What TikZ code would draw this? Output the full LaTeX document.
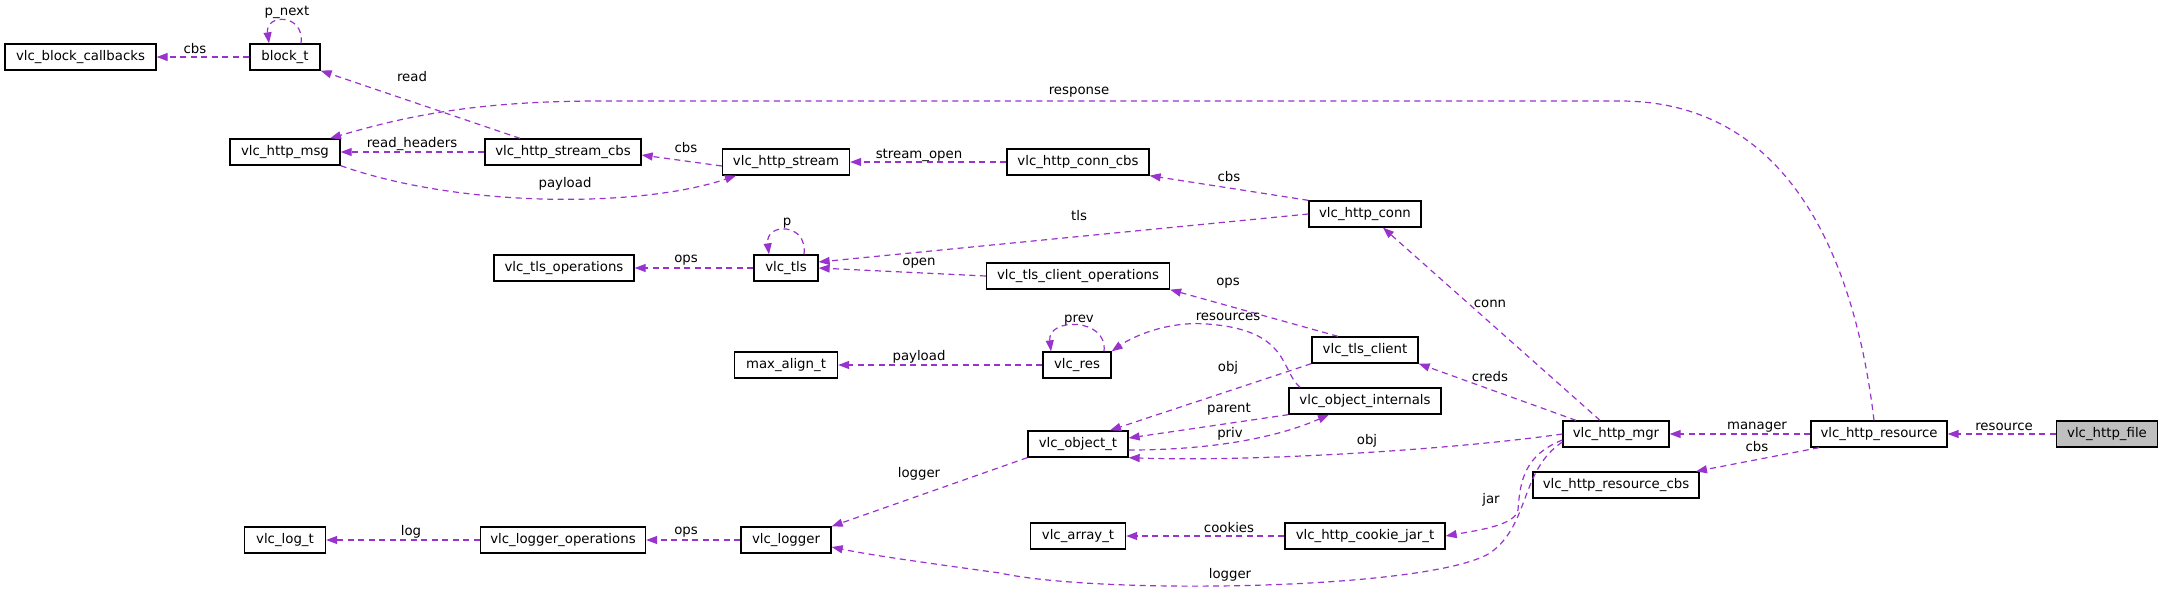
\documentclass[tikz,border=0pt]{standalone}
\usepackage{fontspec}
\setmainfont{DejaVu Sans}
\usetikzlibrary{arrows.meta}

\definecolor{edgecol}{HTML}{9A32CD}
\definecolor{filecol}{HTML}{BFBFBF}

\begin{document}
\begin{tikzpicture}[x=1pt,y=-1pt,
  cls/.style={draw,line width=1.3pt,inner sep=0pt,minimum height=26pt,font=\fontsize{13.3}{15}\selectfont},
  ed/.style={edgecol,line width=1.2pt,dash pattern=on 6pt off 4.5pt,-{Triangle[length=11pt,width=8pt]}},
  lbl/.style={inner sep=0pt,font=\fontsize{13.3}{15}\selectfont}]
\useasboundingbox (0,0) rectangle (2164,590);
% classes
\node[cls,minimum width=151] (cbcks) at (80.5,57) {vlc\_block\_callbacks};
\node[cls,minimum width=70] (blk) at (285,57) {block\_t};
\node[cls,minimum width=110] (msg) at (285,152) {vlc\_http\_msg};
\node[cls,minimum width=156] (scbs) at (563,152) {vlc\_http\_stream\_cbs};
\node[cls,minimum width=140] (tlsops) at (564,268) {vlc\_tls\_operations};
\node[cls,minimum width=127] (strm) at (786,162) {vlc\_http\_stream};
\node[cls,minimum width=142] (ccbs) at (1078,162) {vlc\_http\_conn\_cbs};
\node[cls,minimum width=112] (conn) at (1365,214) {vlc\_http\_conn};
\node[cls,minimum width=64] (tls) at (786,268) {vlc\_tls};
\node[cls,minimum width=183] (clops) at (1078,276) {vlc\_tls\_client\_operations};
\node[cls,minimum width=103] (maxal) at (786,365) {max\_align\_t};
\node[cls,minimum width=68] (res) at (1077,365) {vlc\_res};
\node[cls,minimum width=106] (tlscl) at (1365,350) {vlc\_tls\_client};
\node[cls,minimum width=152] (objint) at (1365,401) {vlc\_object\_internals};
\node[cls,minimum width=100] (obj) at (1078,444) {vlc\_object\_t};
\node[cls,minimum width=95] (arr) at (1078,536) {vlc\_array\_t};
\node[cls,minimum width=160] (jar) at (1365,536) {vlc\_http\_cookie\_jar\_t};
\node[cls,minimum width=106] (mgr) at (1616,434) {vlc\_http\_mgr};
\node[cls,minimum width=136] (rsrc) at (1879,434) {vlc\_http\_resource};
\node[cls,minimum width=166] (rcbs) at (1616,485) {vlc\_http\_resource\_cbs};
\node[cls,minimum width=101,fill=filecol] (file) at (2107,434) {vlc\_http\_file};
\node[cls,minimum width=81] (logt) at (285,540) {vlc\_log\_t};
\node[cls,minimum width=165] (logops) at (563,540) {vlc\_logger\_operations};
\node[cls,minimum width=90] (logr) at (786,540) {vlc\_logger};
% members
\draw[ed] (blk) -- (cbcks);
\draw[ed] ([xshift=16]blk.north) .. controls +(4,-30) and +(-4,-30) .. ([xshift=-16]blk.north);
\draw[ed] ([xshift=-43]scbs.north) -- (blk.south east);
\draw[ed] ([xshift=-5]rsrc.north) .. controls (1855,260) and (1790,101) .. (1620,101)
  -- (600,101) .. controls (470,101) and (400,118) .. ([xshift=45]msg.north);
\draw[ed] (scbs) -- (msg);
\draw[ed] ([yshift=-4]strm.west) -- ([yshift=-3]scbs.east);
\draw[ed] (msg.south east) .. controls (460,208) and (640,208) .. ([xshift=-50]strm.south);
\draw[ed] (ccbs) -- (strm);
\draw[ed] (conn.north west) -- (ccbs.south east);
\draw[ed] (conn.west) -- ([yshift=6]tls.east);
\draw[ed] (tls) -- (tlsops);
\draw[ed] ([xshift=18]tls.north) .. controls +(4,-32) and +(-4,-32) .. ([xshift=-17]tls.north);
\draw[ed] (clops.west) -- (tls.east);
\draw[ed] ([xshift=-27]tlscl.north) -- (clops.south east);
\draw[ed] ([xshift=27]res.north) .. controls +(4,-34) and +(-4,-34) .. ([xshift=-26]res.north);
\draw[ed] ([xshift=-65]objint.north) .. controls (1280,370) and (1290,330) .. (1207,324)
  .. controls (1170,321) and (1135,335) .. (res.north east);
\draw[ed] (res) -- (maxal);
\draw[ed] (tlscl.south west) -- ([xshift=32]obj.north);
\draw[ed] (objint.south west) -- ([yshift=6]obj.east);
\draw[ed] ([yshift=-6]obj.east) .. controls (1230,450) and (1290,432) .. ([xshift=-36]objint.south);
\draw[ed] (mgr.west) .. controls (1450,450) and (1250,462) .. (obj.south east);
\draw[ed] ([xshift=-40]mgr.north) -- (tlscl.south east);
\draw[ed] ([xshift=-16]mgr.north) -- ([xshift=18]conn.south);
\draw[ed] (obj.south west) -- (logr.north east);
\draw[ed] (logr) -- (logops);
\draw[ed] (logops) -- (logt);
\draw[ed] (jar) -- (arr);
\draw[ed] ([yshift=-6]mgr.west) .. controls (1525,455) and (1520,480) .. (1518,510)
  .. controls (1515,525) and (1480,530) .. (jar.east);
\draw[ed] ([yshift=-8]mgr.west) .. controls (1520,470) and (1530,525) .. (1490,553)
  .. controls (1430,590) and (1100,595) .. (1000,573)
  .. controls (920,562) and (870,555) .. ([yshift=-7]logr.east);
\draw[ed] (rsrc) -- (mgr);
\draw[ed] ([xshift=-60]rsrc.south) -- ([xshift=80]rcbs.north);
\draw[ed] (file) -- (rsrc);
% labels
\node[lbl] (l1) at (195,49) {cbs};
\node[lbl] (l2) at (287,12) {p\_next};
\node[lbl] (l3) at (412,77) {read};
\node[lbl] (l4) at (1079,92) {response};
\node[lbl] (l5) at (412,144) {read\_headers};
\node[lbl] (l6) at (686,148) {cbs};
\node[lbl] (l7) at (565,184) {payload};
\node[lbl] (l8) at (919,155) {stream\_open};
\node[lbl] (l9) at (1229,177) {cbs};
\node[lbl] (l10) at (1079,216) {tls};
\node[lbl] (l11) at (686,260) {ops};
\node[lbl] (l12) at (787,223) {p};
\node[lbl] (l13) at (919,263) {open};
\node[lbl] (l14) at (1228,283) {ops};
\node[lbl] (l15) at (1079,320) {prev};
\node[lbl] (l16) at (1228,317) {resources};
\node[lbl] (l17) at (919,357) {payload};
\node[lbl] (l18) at (1228,368) {obj};
\node[lbl] (l19) at (1229,409) {parent};
\node[lbl] (l20) at (1230,434) {priv};
\node[lbl] (l21) at (1367,441) {obj};
\node[lbl] (l22) at (1490,377) {creds};
\node[lbl] (l23) at (1490,304) {conn};
\node[lbl] (l24) at (919,474) {logger};
\node[lbl] (l25) at (686,532) {ops};
\node[lbl] (l26) at (411,532) {log};
\node[lbl] (l27) at (1229,528) {cookies};
\node[lbl] (l28) at (1491,500) {jar};
\node[lbl] (l29) at (1230,575) {logger};
\node[lbl] (l30) at (1757,427) {manager};
\node[lbl] (l31) at (1757,447) {cbs};
\node[lbl] (l32) at (2004,427) {resource};
\end{tikzpicture}
\end{document}
